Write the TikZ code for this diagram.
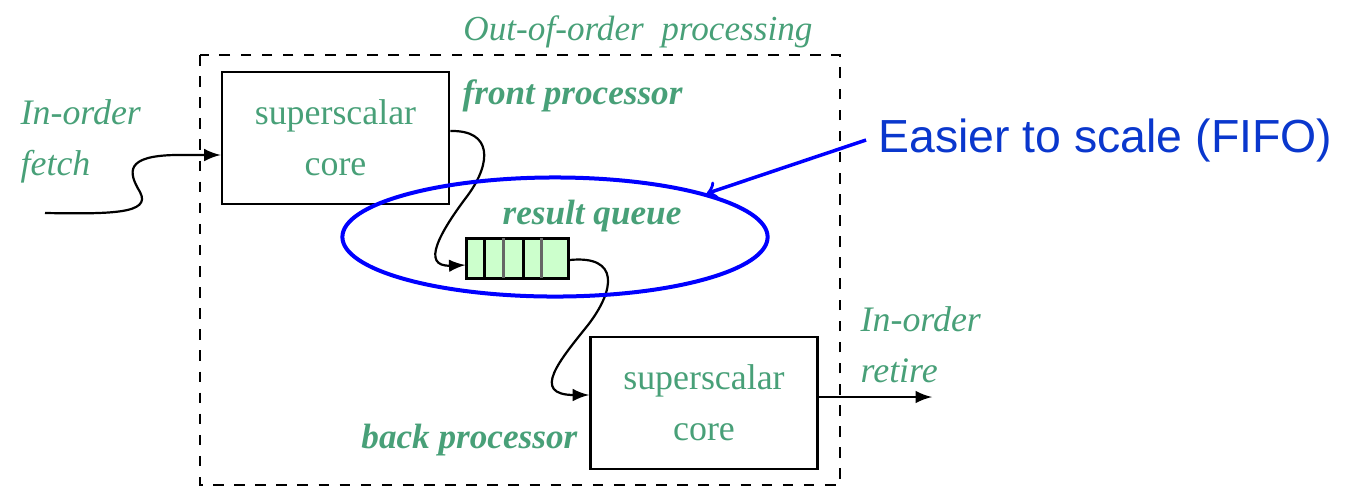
\documentclass[tikz,border=0pt]{standalone}
\usepackage{fontspec}
\setmainfont{Liberation Serif}
\newfontfamily\arialfont{Liberation Sans}
\usetikzlibrary{calc,shapes.geometric}
\definecolor{leafgreen}{RGB}{72,160,120}
\definecolor{cellgreen}{RGB}{204,255,204}
\definecolor{noteblue}{RGB}{10,55,205}
\tikzset{
  corebox/.style={draw, line width=0.25mm, minimum width=2.27cm, minimum height=1.32cm, align=center, text=leafgreen, font=\fontsize{10.2}{14.5}\selectfont},
  tag/.style={text=leafgreen, font=\itshape\fontsize{10}{14}\selectfont, inner sep=0pt},
  boldtag/.style={text=leafgreen, font=\bfseries\itshape\fontsize{10}{14}\selectfont, inner sep=0pt},
  wire/.style={line width=0.22mm, -latex}
}

\begin{document}
\begin{tikzpicture}[x=0.01cm, y=-0.01cm]
		%%%%% START %%%%%
		\useasboundingbox (0, 0) rectangle (1357, 487);
		
		\draw[dashed, line width=0.25mm] (200, 55) rectangle (840, 485);
		\node[tag, anchor=base] (ooo) at (638, 40) {Out-of-order\ \ processing};
		
		\node[corebox] (front) at (335.5, 138) {superscalar\\core};
		\node[corebox] (back) at (704, 403) {superscalar\\core};
		
		\node[boldtag, anchor=base west] (frontlbl) at (462, 104) {front processor};
		\node[boldtag, anchor=base east] (backlbl) at (578, 448) {back processor};
		\node[boldtag, anchor=base] (queuelbl) at (592, 224) {result queue};
		
		\node[tag, anchor=west, align=left, font=\itshape\fontsize{10.2}{14.5}\selectfont] (fetchlbl) at (20, 141) {In-order\\fetch};
		\node[tag, anchor=west, align=left, font=\itshape\fontsize{10.2}{14.5}\selectfont] (retirelbl) at (860, 345) {In-order\\retire};
		
		\node[draw, line width=0.3mm, fill=cellgreen, minimum width=1.01cm, minimum height=0.4cm, inner sep=0pt] (queue) at (517.5, 258) {};
		\draw[line width=0.3mm] (484, 238) -- (484, 278);
		\draw[line width=0.3mm, black!60] (503, 238) -- (503, 278);
		\draw[line width=0.3mm] (523, 238) -- (523, 278);
		\draw[line width=0.3mm, black!60] (541, 238) -- (541, 278);
		
		\coordinate (fetch) at (45, 213);
		\coordinate (retire) at (932, 397);
		
		\draw[wire] (fetch) .. controls (110, 214) and (152, 214) .. (140, 192)
			.. controls (128, 172) and (125, 156) .. (175, 155) -- ($(front.west)+(0, 17)$);
		\draw[wire] ($(front.east)+(0, -7)$) .. controls (492, 130) and (492, 162) .. (468, 195)
			.. controls (440, 232) and (420, 267) .. ($(queue.west)+(0, 7)$);
		\draw[wire] ($(queue.east)+(0, 2)$) .. controls (620, 255) and (615, 290) .. (588, 325)
			.. controls (560, 360) and (530, 395) .. ($(back.west)+(0, -8)$);
		\draw[wire] ($(back.east)+(0, -6)$) -- (retire);
		
		\node[draw=blue, line width=0.4mm, ellipse, minimum width=4.25cm, minimum height=1.19cm] (ring) at (555, 237) {};
		\node[anchor=west, text=noteblue, font=\arialfont\fontsize{13.2}{16}\selectfont] (note) at (866, 140) {Easier to scale (FIFO)};
		\draw[blue, line width=0.35mm, ->] (note.west) -- (ring.north east);
		%%%%% END %%%%%
	\end{tikzpicture}
\end{document}
